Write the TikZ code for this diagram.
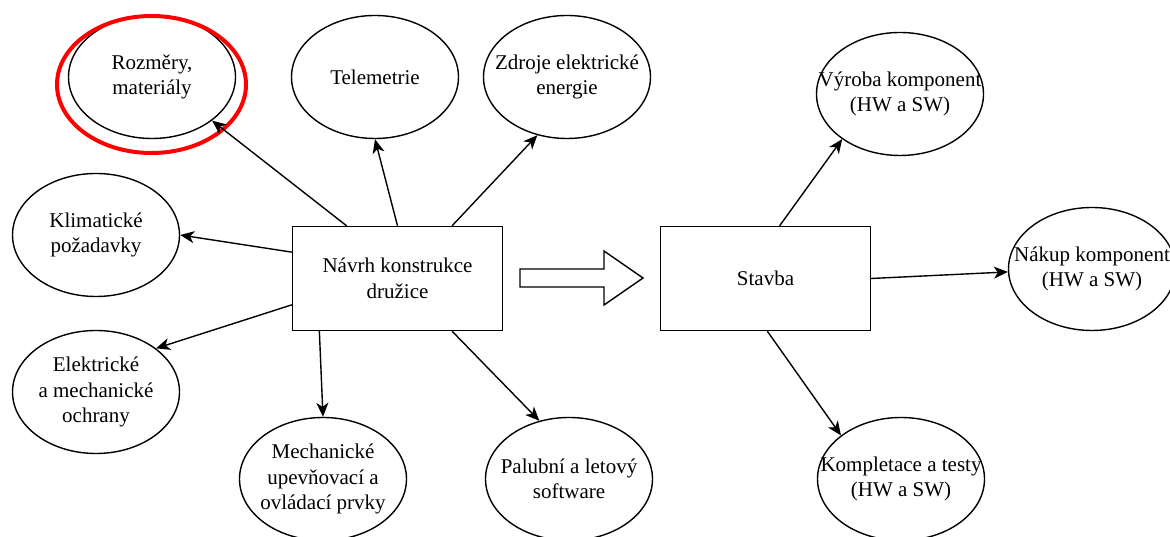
\documentclass[tikz,border=0pt]{standalone}
\usepackage{fontspec}
\setmainfont{Liberation Serif}
\usetikzlibrary{shapes.geometric,arrows.meta}

\begin{document}
\begin{tikzpicture}[x=1pt,y=1pt,
        every node/.style={font=\fontsize{21}{25.5}\selectfont},
        blok/.style={draw,line width=1.4pt,minimum width=210pt,minimum height=104pt,align=center},
        bublina/.style={draw,ellipse,line width=1.4pt,minimum width=167pt,minimum height=123pt,inner sep=0pt},
        popis/.style={align=center},
        sipka/.style={-{Stealth[length=14pt,width=12pt,inset=4pt]},line width=1.4pt}]
        \useasboundingbox (0,0) rectangle (1170,537);

        \node[blok](navrh) at (397.5,258.5){Návrh konstrukce\\družice};
        \node[blok](stavba) at (765.5,258.5){Stavba};

        \node[bublina,label={[popis]center:{Rozměry,\\materiály}}](rozmery) at (152,460){};
        \node[bublina,label={[popis]center:Telemetrie}](telemetrie) at (375,460){};
        \node[bublina,label={[popis]center:{Zdroje elektrické\\energie}}](zdroje) at (567,460){};
        \node[bublina,label={[popis]center:{Klimatické\\požadavky}}](klima) at (96,302){};
        \node[bublina,label={[popis]center:{Elektrické\\a mechanické\\ochrany}}](elektro) at (96,145){};
        \node[bublina,label={[popis]center:{Mechanické\\upevňovací a\\ovládací prvky}}](mechan) at (323,58){};
        \node[bublina,label={[popis]center:{Palubní a letový\\software}}](palubni) at (569,58){};
        \node[bublina,label={[popis]center:{Výroba komponent\\(HW a SW)}}](vyroba) at (900,443){};
        \node[bublina,label={[popis]center:{Nákup komponent\\(HW a SW)}}](nakup) at (1092,268){};
        \node[bublina,label={[popis]center:{Kompletace a testy\\(HW a SW)}}](kompletace) at (901,58){};

        \node[draw=red,ellipse,line width=4pt,minimum width=189pt,minimum height=137pt](zvyrazneni) at (151.5,452.5){};

        \draw[line width=1.4pt](520,268)--(604,268)--(604,286)--(643,259)--(604,232)--(604,250)--(520,250)--cycle;

        \draw[sipka](navrh.134)--(rozmery.-36);
        \draw[sipka](navrh.90)--(telemetrie.-90);
        \draw[sipka](navrh.44)--(zdroje.243);
        \draw[sipka](navrh.166)--(klima.0);
        \draw[sipka](navrh.194)--(elektro.36);
        \draw[sipka](navrh.214)--(mechan.90);
        \draw[sipka](navrh.-44)--(palubni.117);
        \draw[sipka](stavba.75)--(vyroba.218);
        \draw[sipka](stavba.0)--(nakup.182);
        \draw[sipka](stavba.-88)--(kompletace.144);
    \end{tikzpicture}
\end{document}
